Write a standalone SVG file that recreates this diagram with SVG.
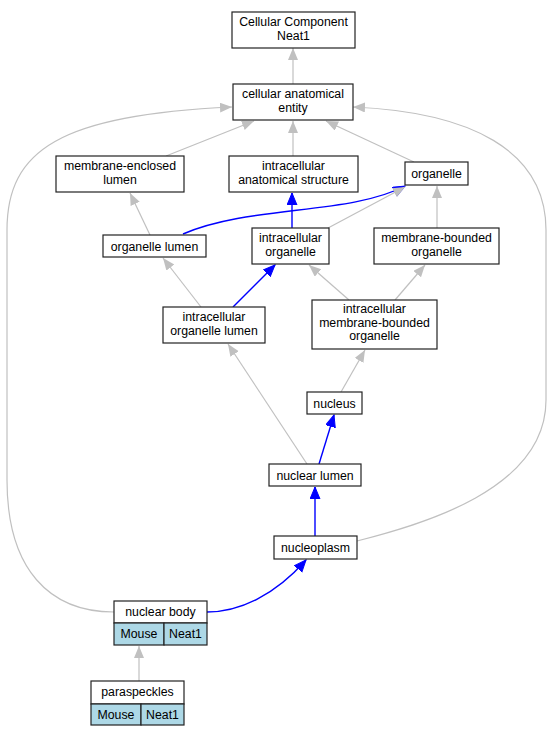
<svg xmlns="http://www.w3.org/2000/svg" width="550" height="736" viewBox="0 0 550 736">
<defs>
<style>
.n rect{fill:#fff;stroke:#222;stroke-width:1.2}
.n rect.c{fill:#add8e6}
text{font-family:"Liberation Sans",Arial,sans-serif;font-size:12.3px;fill:#000;text-anchor:middle}
.g{fill:none;stroke:#c0c0c0;stroke-width:1.2}
.b{fill:none;stroke:#0000ff;stroke-width:1.4}
</style>
<marker id="ag" markerUnits="userSpaceOnUse" markerWidth="13" markerHeight="11" refX="12" refY="5" orient="auto"><path d="M0,0 L12,5 L0,10 z" fill="#c0c0c0"/></marker>
<marker id="ab" markerUnits="userSpaceOnUse" markerWidth="13" markerHeight="11" refX="12" refY="5" orient="auto"><path d="M0,0 L12,5 L0,10 z" fill="#0000ff" stroke="#0000ff" stroke-width="1"/></marker>
</defs>
<rect width="550" height="736" fill="#fff"/>
<g id="edges">
<path class="b" d="M183,234 C250,205 350,215 405,186" marker-end="url(#ab)"/>
<path class="g" d="M293,84 L293,48" marker-end="url(#ag)"/>
<path class="g" d="M166,156 L254,121" marker-end="url(#ag)"/>
<path class="g" d="M293,156 L293,121" marker-end="url(#ag)"/>
<path class="g" d="M414,162 L326,121" marker-end="url(#ag)"/>
<path class="g" d="M114,612 C50,612 7,570 7,480 L7,230 C7,150 60,115 232,107" marker-end="url(#ag)"/>
<path class="g" d="M357,541 C420,525 546,490 546,400 L546,230 C546,150 470,112 353,107" marker-end="url(#ag)"/>
<path class="g" d="M328,228 L405,187" marker-end="url(#ag)"/>
<path class="b" d="M292,228 L292,193" marker-end="url(#ab)"/>
<path class="g" d="M437,228 L437,186" marker-end="url(#ag)"/>
<path class="g" d="M150,235 L130,193" marker-end="url(#ag)"/>
<path class="g" d="M201,307 L163,258" marker-end="url(#ag)"/>
<path class="b" d="M233,307 L275,265" marker-end="url(#ab)"/>
<path class="g" d="M349,300 L309,265" marker-end="url(#ag)"/>
<path class="g" d="M395,300 L425,265" marker-end="url(#ag)"/>
<path class="g" d="M307,464 L228,344" marker-end="url(#ag)"/>
<path class="g" d="M341,392 L365,350" marker-end="url(#ag)"/>
<path class="b" d="M319,464 L334,415" marker-end="url(#ab)"/>
<path class="b" d="M315,536 L315,487" marker-end="url(#ab)"/>
<path class="b" d="M207,612 C240,612 275,595 306,560" marker-end="url(#ab)"/>
<path class="g" d="M139,681 L139,646" marker-end="url(#ag)"/>
</g>
<g id="cc" class="n"><rect x="232" y="12" width="123" height="36"/><text x="293.5" y="25.5">Cellular Component</text><text x="293.5" y="39.5">Neat1</text></g>
<g id="cae" class="n"><rect x="233" y="84" width="120" height="36"/><text x="293" y="97.5">cellular anatomical</text><text x="293" y="111.5">entity</text></g>
<g id="mel" class="n"><rect x="56" y="156" width="128" height="36"/><text x="120" y="169.5">membrane-enclosed</text><text x="120" y="183.5">lumen</text></g>
<g id="ias" class="n"><rect x="229" y="156" width="129" height="36"/><text x="293.5" y="169.5">intracellular</text><text x="293.5" y="183.5">anatomical structure</text></g>
<g id="org" class="n"><rect x="405" y="162" width="63" height="23"/><text x="436.5" y="177.5">organelle</text></g>
<g id="ol" class="n"><rect x="103" y="235" width="103" height="22"/><text x="154.5" y="250.5">organelle lumen</text></g>
<g id="io" class="n"><rect x="252" y="228" width="77" height="36"/><text x="290.5" y="241.5">intracellular</text><text x="290.5" y="255.5">organelle</text></g>
<g id="mbo" class="n"><rect x="374" y="228" width="125" height="36"/><text x="436.5" y="241.5">membrane-bounded</text><text x="436.5" y="255.5">organelle</text></g>
<g id="iol" class="n"><rect x="163" y="307" width="102" height="36"/><text x="214" y="320.5">intracellular</text><text x="214" y="334.5">organelle lumen</text></g>
<g id="imbo" class="n"><rect x="312" y="300" width="125" height="49"/><text x="374.5" y="313">intracellular</text><text x="374.5" y="326.5">membrane-bounded</text><text x="374.5" y="340">organelle</text></g>
<g id="nucleus" class="n"><rect x="307" y="392" width="55" height="22"/><text x="334.5" y="407.5">nucleus</text></g>
<g id="nl" class="n"><rect x="269" y="464" width="92" height="22"/><text x="315" y="479.5">nuclear lumen</text></g>
<g id="np" class="n"><rect x="274" y="536" width="83" height="23"/><text x="315.5" y="551.5">nucleoplasm</text></g>
<g id="nb" class="n"><rect x="114" y="601" width="93" height="22"/><rect class="c" x="114" y="623" width="50" height="22"/><rect class="c" x="164" y="623" width="43" height="22"/><text x="160.5" y="616">nuclear body</text><text x="139" y="638">Mouse</text><text x="185.5" y="638">Neat1</text></g>
<g id="ps" class="n"><rect x="91" y="681" width="93" height="23"/><rect class="c" x="91" y="704" width="50" height="21"/><rect class="c" x="141" y="704" width="43" height="21"/><text x="137.5" y="696">paraspeckles</text><text x="116" y="718.5">Mouse</text><text x="162.5" y="718.5">Neat1</text></g>
</svg>
